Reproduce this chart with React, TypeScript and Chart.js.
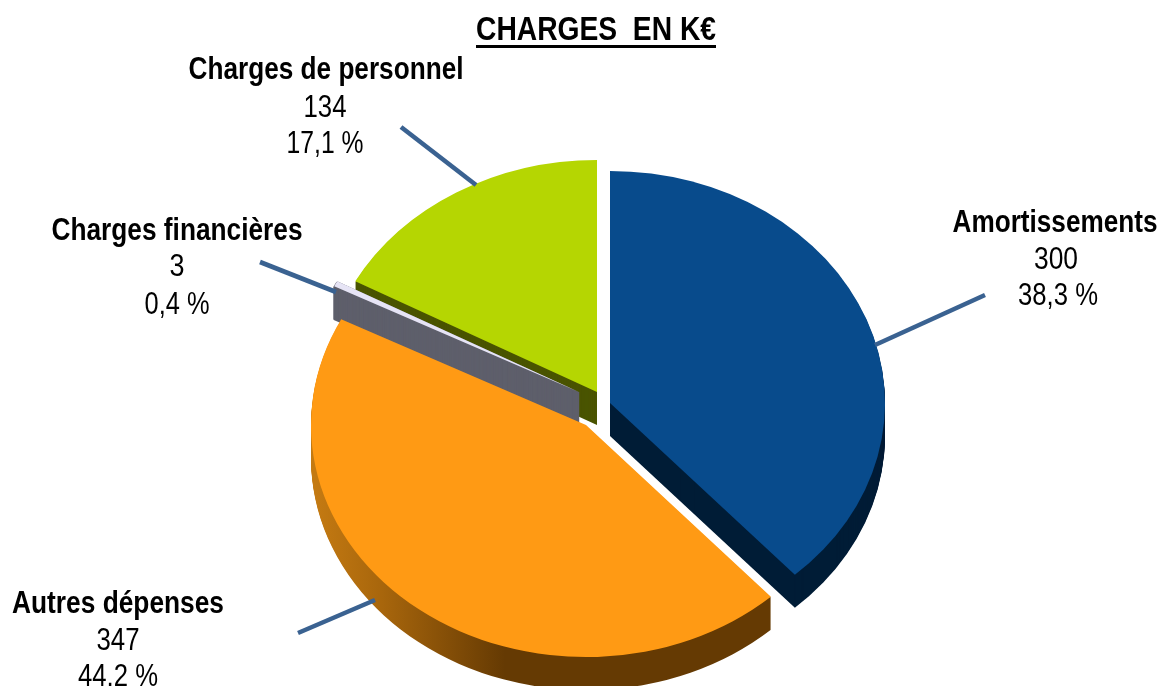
import React, { useEffect, useRef } from "react";
import { Chart, registerables } from "chart.js";

Chart.register(...registerables);

const titleText = "CHARGES  EN K€";
const categories = ["Amortissements", "Autres dépenses", "Charges financières", "Charges de personnel"];
const values = [300, 347, 3, 134];
const percentLabels = ["38,3 %", "44,2 %", "0,4 %", "17,1 %"];
const topColors = ["#084b8c", "#ff9a14", "#e6e4f5", "#b5d602"];
const wallColors = ["#001c36", "#653a03", "#5e5f6b", "#4a5400"];

// Where each exploded slice's apex sits on the page
const sliceApex = [
  { x: 610, y: 403 },
  { x: 586, y: 425 },
  { x: 579, y: 392 },
  { x: 597, y: 392 },
];
const drawOrder = [3, 2, 1, 0];
const tilt = 0.844;
const depth = 33;

const labelLayout = [
  { cx: [1055, 1056, 1058], y: [232, 269, 305], w: [205, 44, 80] },
  { cx: [118, 118, 118], y: [613, 650, 686], w: [212, 43, 80] },
  { cx: [177, 177, 177], y: [240, 276, 314], w: [251, 15, 65] },
  { cx: [326, 325, 325], y: [79, 117, 153], w: [275, 43, 77] },
];
const leaders = [
  [985, 295, 875, 345],
  [298, 633, 375, 600],
  [260, 262, 336, 292],
  [401, 127, 476, 185],
];

function squeezedText(ctx: CanvasRenderingContext2D, text: string, cx: number, y: number, w: number, font: string) {
  ctx.save();
  ctx.font = font;
  ctx.textAlign = "center";
  ctx.textBaseline = "alphabetic";
  ctx.fillStyle = "#000000";
  const m = ctx.measureText(text).width;
  ctx.translate(cx, y);
  ctx.scale(w / m, 1);
  ctx.fillText(text, 0, 0);
  ctx.restore();
}

const piePlugin = {
  id: "tiltedPie",
  beforeDatasetsDraw(chart: any) {
    const ctx: CanvasRenderingContext2D = chart.ctx;
    const arcs = chart.getDatasetMeta(0).data;
    const paint = (el: any, i: number, dy: number, fill: any, border = 0) => {
      const apex = sliceApex[i];
      const orig = el.options;
      el.options = {
        ...orig,
        backgroundColor: fill,
        borderColor: fill,
        borderWidth: border,
        borderAlign: "center",
        offset: 0,
        spacing: 0,
      };
      ctx.save();
      ctx.translate(apex.x, apex.y + dy);
      ctx.scale(1, tilt);
      ctx.translate(-el.x, -el.y);
      el.draw(ctx);
      ctx.restore();
      el.options = orig;
    };
    drawOrder.forEach((i) => {
      const el = arcs[i];
      let fill: any = wallColors[i];
      if (i === 1) {
        const x0 = el.x - sliceApex[1].x;
        const g = ctx.createLinearGradient(x0 + 315, 0, x0 + 505, 0);
        g.addColorStop(0, "#c47a12");
        g.addColorStop(0.35, "#a8660c");
        g.addColorStop(1, "#653a03");
        fill = g;
      }
      // the thin slice needs an outline so its stacked wall closes up near the apex
      const wallBorder = i === 2 ? 2 : 0;
      for (let d = depth; d >= 1; d--) paint(el, i, d, fill, wallBorder);
      paint(el, i, 0, topColors[i]);
    });
    return false;
  },
  afterDraw(chart: any) {
    const ctx: CanvasRenderingContext2D = chart.ctx;
    ctx.save();
    ctx.strokeStyle = "#3a6291";
    ctx.lineWidth = 4.6;
    leaders.forEach(([a, b, c, d]) => {
      ctx.beginPath();
      ctx.moveTo(a, b);
      ctx.lineTo(c, d);
      ctx.stroke();
    });
    ctx.restore();

    squeezedText(ctx, titleText, 596, 40, 240, 'bold 33px "Liberation Sans"');
    ctx.fillStyle = "#000000";
    ctx.fillRect(476, 45, 240, 3);

    categories.forEach((name, i) => {
      const l = labelLayout[i];
      squeezedText(ctx, name, l.cx[0], l.y[0], l.w[0], 'bold 31px "Liberation Sans"');
      squeezedText(ctx, String(values[i]), l.cx[1], l.y[1], l.w[1], '32px "Liberation Sans"');
      squeezedText(ctx, percentLabels[i], l.cx[2], l.y[2], l.w[2], '32px "Liberation Sans"');
    });
  },
};

export default function App() {
  const ref = useRef<HTMLCanvasElement>(null);
  useEffect(() => {
    document.body.style.margin = "0";
    const chart = new Chart(ref.current as HTMLCanvasElement, {
      type: "pie",
      data: {
        labels: categories,
        datasets: [{ data: values, backgroundColor: topColors, borderWidth: 0 }],
      },
      options: {
        responsive: false,
        animation: false,
        layout: { padding: { left: 305, right: 305, top: 68, bottom: 68 } },
        plugins: { legend: { display: false }, tooltip: { enabled: false } },
      },
      plugins: [piePlugin],
    } as any);
    return () => chart.destroy();
  }, []);
  return <canvas ref={ref} width={1160} height={686} style={{ display: "block" }} />;
}
